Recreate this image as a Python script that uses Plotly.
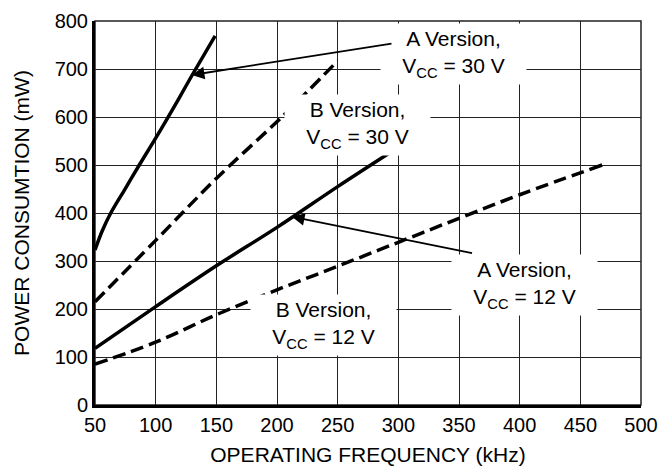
import plotly.graph_objects as go

# curves (kHz -> mW)
a30_freq = [50, 56, 63, 75, 86.5, 100, 119, 130, 149]
a30_power = [323, 363, 400, 451, 500, 556, 638, 687, 769]

b30_freq = [50, 100, 150, 204, 250]
b30_power = [215, 343, 472, 600, 717]

a12_freq = [50, 100, 150, 200, 250, 300]
a12_power = [118, 205, 290, 370, 455, 537]

b12_freq = [50, 100, 150, 200, 250, 300, 350, 400, 468]
b12_power = [85, 131, 188, 240, 289, 339, 389, 438, 500]

x_ticks = [50, 100, 150, 200, 250, 300, 350, 400, 450, 500]
y_ticks = [0, 100, 200, 300, 400, 500, 600, 700, 800]

FONT = "Liberation Sans, Arial, Helvetica, sans-serif"
DASH = "13px,6px"

fig = go.Figure()

curves = [
    (a30_freq, a30_power, "solid"),
    (b30_freq, b30_power, DASH),
    (a12_freq, a12_power, "solid"),
    (b12_freq, b12_power, DASH),
]
for fx, py, dash in curves:
    fig.add_trace(go.Scatter(
        x=fx, y=py, mode="lines",
        line=dict(color="black", width=3.5, dash=dash, shape="spline", smoothing=1.0),
        showlegend=False, hoverinfo="skip",
    ))

# text labels with white boxes that break the grid, like the original
labels = [
    (345.5, 732, "A Version,<br>V<sub>CC</sub> = 30 V"),
    (266.4, 583, "B Version,<br>V<sub>CC</sub> = 30 V"),
    (404, 250, "A Version,<br>V<sub>CC</sub> = 12 V"),
    (238.3, 167.7, "B Version,<br>V<sub>CC</sub> = 12 V"),
]
for lx, ly, txt in labels:
    fig.add_annotation(
        x=lx, y=ly, xref="x", yref="y", text=txt, showarrow=False,
        font=dict(family=FONT, size=21, color="black"),
        bgcolor="white", width=141, height=56, borderpad=2, align="center",
    )

# pointer arrows (tail -> head on the curve)
arrows = [
    ((295.6, 753.5), (129.8, 687.5)),
    ((362, 316), (212.3, 392)),
]
for (tx, ty), (hx, hy) in arrows:
    fig.add_annotation(
        x=hx, y=hy, ax=tx, ay=ty, xref="x", yref="y", axref="x", ayref="y",
        text="", showarrow=True, arrowhead=2, arrowsize=1.4, arrowwidth=1.8,
        arrowcolor="black",
    )

# thin frame on top/right
fig.add_shape(type="rect", xref="paper", yref="paper", x0=0, y0=0, x1=1, y1=1,
              line=dict(color="#222", width=1.5), layer="below")

fig.update_xaxes(
    range=[50, 500], tickvals=x_ticks, ticks="", showgrid=True,
    gridcolor="#222", gridwidth=1.3, zeroline=False,
    showline=True, linecolor="black", linewidth=3,
    tickfont=dict(family=FONT, size=20, color="black"),
    title=dict(text="OPERATING FREQUENCY (kHz)", standoff=13,
               font=dict(family=FONT, size=21, color="black")),
)
fig.update_yaxes(
    range=[0, 800], tickvals=y_ticks, ticks="", showgrid=True,
    gridcolor="#222", gridwidth=1.3, zeroline=False,
    showline=True, linecolor="black", linewidth=3,
    tickfont=dict(family=FONT, size=20, color="black"),
    title=dict(text="POWER CONSUMTION (mW)", standoff=20,
               font=dict(family=FONT, size=21, color="black")),
)

fig.update_layout(
    width=665, height=470,
    margin=dict(l=95, r=24, t=21, b=65, autoexpand=False),
    paper_bgcolor="white", plot_bgcolor="white",
    font=dict(family=FONT, color="black"),
)

# drop the default page margin so the figure sits at the window corner
fig.write_html("out.html", config={"displayModeBar": False},
               post_script="document.body.style.margin='0';")
